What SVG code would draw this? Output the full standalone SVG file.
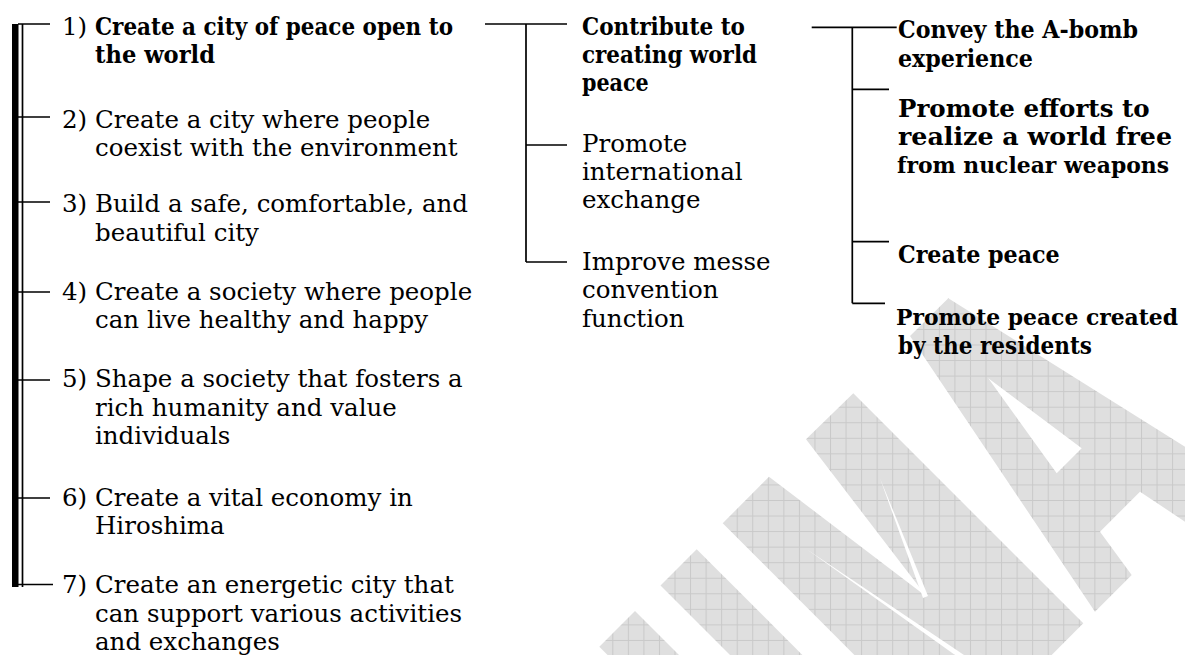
<svg xmlns="http://www.w3.org/2000/svg" width="1185" height="655" viewBox="0 0 1185 655">
<defs>
<pattern id="grid" patternUnits="userSpaceOnUse" x="5.85" y="2.4" width="15.55" height="15.55">
<rect width="15.55" height="15.55" fill="#dfdfdf"/>
<path d="M0.5 0V15.55M0 0.5H15.55" stroke="#c9c9c9" stroke-width="1" fill="none"/>
</pattern>
<style>
.t{font-family:"DejaVu Serif","Liberation Serif",serif;font-size:24.5px;fill:#000}
.b{font-weight:bold}
.s{font-size:22px}
.ln{stroke:#000;stroke-width:1.7;fill:none}
.wm{fill:url(#grid)}
.wh{fill:#fff}
</style>
</defs>
<rect width="1185" height="655" fill="#fff"/>
<g id="watermark">
<polygon class="wm" points="599.3,646.7 635,611 679,655 607.6,655"/>
<polygon class="wm" points="660.5,585.5 696.7,549.3 802.4,655 730,655"/>
<polygon class="wm" points="722.7,523.3 769,476.7 926.7,596.7 806,439.3 853.3,393.3 1083.3,623.3 1051.7,655 854.4,655"/>
<polygon class="wh" points="806.7,549.3 964,655 955,655"/>
<polygon class="wh" points="880,478.3 928,596 923,598"/>
<polygon class="wm" points="910,336 948.3,298.3 1185,446.7 1185,521.7 1140,491.7 1100,531.7 1131.7,575 1095,611.7"/>
<polygon class="wh" points="988.3,378.3 1081.7,448.3 1056.7,473.3"/>
</g>
<g id="connectors">
<rect x="12" y="24" width="6.5" height="563" fill="#000"/>
<path class="ln" d="M22.5 24V587"/>
<path class="ln" d="M18 24H50M18 117H50M18 202H50M18 292H50M18 380H50M18 498H50M18 584.5H53"/>
<path class="ln" d="M485 24H567M526 24V262M526 145H567M526 262H567"/>
<path class="ln" d="M811.7 27.3H896.7M852.3 27.3V303.3M852.3 89.3H889M852.3 241.7H889M852.3 303.3H885"/>
</g>
<g id="item1">
<text class="t" x="62" y="35">1)</text>
<text class="t b" x="95" y="35" textLength="358" lengthAdjust="spacingAndGlyphs">Create a city of peace open to</text>
<text class="t b" x="95" y="63.3" textLength="120" lengthAdjust="spacingAndGlyphs">the world</text>
</g>
<g id="item2">
<text class="t" x="62" y="128">2)</text>
<text class="t" x="95" y="128">Create a city where people</text>
<text class="t" x="95" y="156">coexist with the environment</text>
</g>
<g id="item3">
<text class="t" x="62" y="212">3)</text>
<text class="t" x="95" y="212">Build a safe, comfortable, and</text>
<text class="t" x="95" y="240.5">beautiful city</text>
</g>
<g id="item4">
<text class="t" x="62" y="300">4)</text>
<text class="t" x="95" y="300">Create a society where people</text>
<text class="t" x="95" y="328.3">can live healthy and happy</text>
</g>
<g id="item5">
<text class="t" x="62" y="387">5)</text>
<text class="t" x="95" y="387">Shape a society that fosters a</text>
<text class="t" x="95" y="415.5">rich humanity and value</text>
<text class="t" x="95" y="444">individuals</text>
</g>
<g id="item6">
<text class="t" x="62" y="505.5">6)</text>
<text class="t" x="95" y="505.5">Create a vital economy in</text>
<text class="t" x="95" y="534">Hiroshima</text>
</g>
<g id="item7">
<text class="t" x="62" y="593">7)</text>
<text class="t" x="95" y="593">Create an energetic city that</text>
<text class="t" x="95" y="621.7">can support various activities</text>
<text class="t" x="95" y="650">and exchanges</text>
</g>
<g id="mid1">
<text class="t b" x="582" y="35" textLength="163" lengthAdjust="spacingAndGlyphs">Contribute to</text>
<text class="t b" x="582" y="63.3" textLength="175" lengthAdjust="spacingAndGlyphs">creating world</text>
<text class="t b" x="582" y="90.7" textLength="66.7" lengthAdjust="spacingAndGlyphs">peace</text>
</g>
<g id="mid2">
<text class="t" x="582" y="151.7">Promote</text>
<text class="t" x="582" y="180">international</text>
<text class="t" x="582" y="208.3">exchange</text>
</g>
<g id="mid3">
<text class="t" x="582" y="270">Improve messe</text>
<text class="t" x="582" y="298.3">convention</text>
<text class="t" x="582" y="327">function</text>
</g>
<g id="right1">
<text class="t b" x="898" y="37.5" textLength="240" lengthAdjust="spacingAndGlyphs">Convey the A-bomb</text>
<text class="t b" x="898" y="66.5" textLength="135" lengthAdjust="spacingAndGlyphs">experience</text>
</g>
<g id="right2">
<text class="t b" x="898" y="116.5" textLength="251.7" lengthAdjust="spacingAndGlyphs">Promote efforts to</text>
<text class="t b" x="898" y="145" textLength="274" lengthAdjust="spacingAndGlyphs">realize a world free</text>
<text class="t b s" x="897" y="173.3" textLength="272" lengthAdjust="spacingAndGlyphs">from nuclear weapons</text>
</g>
<g id="right3">
<text class="t b" x="898" y="263.3" textLength="161.7" lengthAdjust="spacingAndGlyphs">Create peace</text>
</g>
<g id="right4">
<text class="t b s" x="896" y="325" textLength="282" lengthAdjust="spacingAndGlyphs">Promote peace created</text>
<text class="t b" x="898" y="353.5" textLength="194" lengthAdjust="spacingAndGlyphs">by the residents</text>
</g>
</svg>
